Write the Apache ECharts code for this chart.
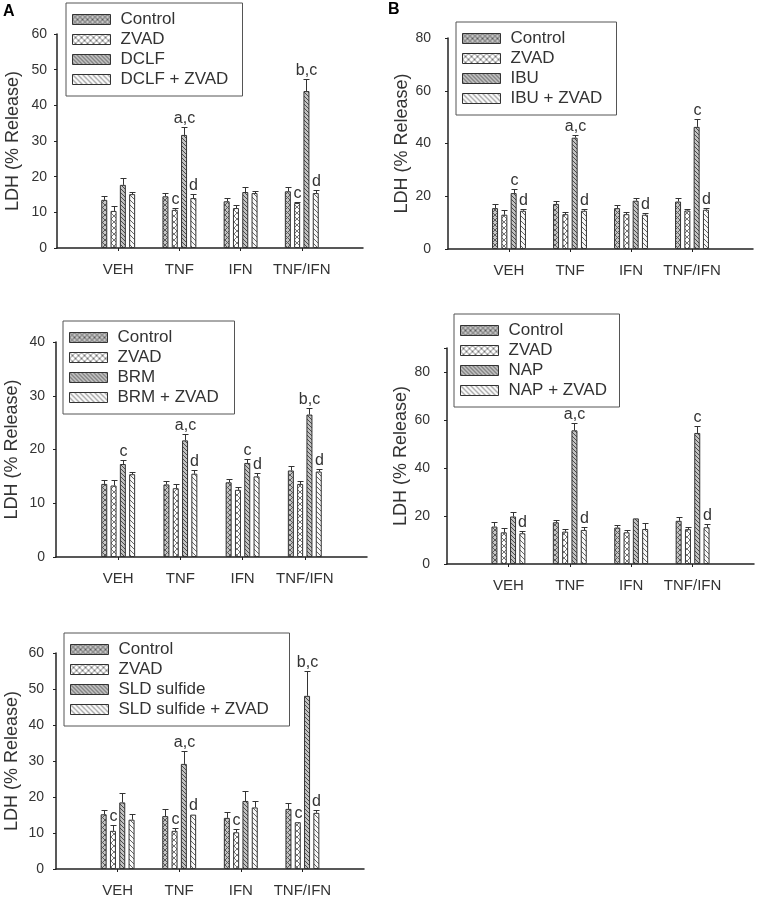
<!DOCTYPE html>
<html><head><meta charset="utf-8">
<script src="https://cdn.jsdelivr.net/npm/echarts@6/dist/echarts.min.js"></script>
<style>html,body{margin:0;padding:0;background:#fff}#c{width:760px;height:899px}</style>
</head><body><div id="c"></div>
<script>
const categories = ['VEH', 'TNF', 'IFN', 'TNF/IFN'];

// Panel A (top): DCLF
const dclfNames = ['Control', 'ZVAD', 'DCLF', 'DCLF + ZVAD'];
const dclfMean = [[13.5, 14.5, 13.1, 15.9], [10.4, 10.7, 11.2, 12.6], [17.7, 31.7, 15.7, 44.0], [15.1, 14.0, 15.4, 15.4]];
const dclfErr  = [[1.0, 0.9, 0.9, 1.1], [1.4, 0.5, 0.9, 0.2], [1.9, 2.3, 1.4, 3.3], [0.6, 1.1, 0.6, 0.9]];
const dclfSig  = [['', '', '', ''], ['', 'c', '', 'c'], ['', 'a,c', '', 'b,c'], ['', 'd', '', 'd']];
const dclfTicks = [0, 10, 20, 30, 40, 50, 60];

// Panel A (middle): BRM
const brmNames = ['Control', 'ZVAD', 'BRM', 'BRM + ZVAD'];
const brmMean = [[13.6, 13.5, 13.9, 16.1], [13.3, 12.8, 12.5, 13.6], [17.3, 21.7, 17.5, 26.5], [15.4, 15.5, 15.0, 15.9]];
const brmErr  = [[0.8, 0.6, 0.6, 0.8], [1.0, 0.7, 0.5, 0.5], [0.7, 1.2, 0.8, 1.2], [0.5, 0.6, 0.6, 0.5]];
const brmSig  = [['', '', '', ''], ['', '', '', ''], ['c', 'a,c', 'c', 'b,c'], ['', 'd', 'd', 'd']];
const brmTicks = [0, 10, 20, 30, 40];

// Panel A (bottom): SLD sulfide
const sldNames = ['Control', 'ZVAD', 'SLD sulfide', 'SLD sulfide + ZVAD'];
const sldMean = [[15.2, 14.7, 14.2, 16.7], [10.6, 10.6, 10.2, 13.0], [18.5, 29.2, 18.9, 48.1], [13.7, 15.1, 17.1, 15.6]];
const sldErr  = [[1.1, 1.9, 1.5, 1.5], [1.6, 0.8, 0.8, 0.0], [2.5, 3.6, 2.7, 7.0], [1.7, 0.0, 1.7, 0.7]];
const sldSig  = [['', '', '', ''], ['c', 'c', 'c', 'c'], ['', 'a,c', '', 'b,c'], ['', 'd', '', 'd']];
const sldTicks = [0, 10, 20, 30, 40, 50, 60];

// Panel B (top): IBU
const ibuNames = ['Control', 'ZVAD', 'IBU', 'IBU + ZVAD'];
const ibuMean = [[15.5, 17.1, 15.5, 18.0], [13.0, 13.2, 13.2, 14.6], [21.2, 42.2, 18.3, 46.3], [14.5, 14.5, 13.0, 14.9]];
const ibuErr  = [[1.6, 1.2, 1.3, 1.3], [1.6, 1.0, 1.0, 0.5], [1.5, 1.0, 1.2, 2.8], [0.6, 0.6, 0.6, 0.5]];
const ibuSig  = [['', '', '', ''], ['', '', '', ''], ['c', 'a,c', '', 'c'], ['d', 'd', 'd', 'd']];
const ibuTicks = [0, 20, 40, 60, 80];

// Panel B (middle): NAP
const napNames = ['Control', 'ZVAD', 'NAP', 'NAP + ZVAD'];
const napMean = [[15.6, 17.4, 15.2, 18.0], [13.2, 13.5, 13.2, 14.5], [19.8, 55.7, 19.0, 54.6], [12.8, 14.2, 14.6, 15.3]];
const napErr  = [[1.8, 1.0, 1.1, 1.4], [1.6, 1.0, 1.0, 0.8], [1.8, 3.1, 0.0, 3.1], [0.9, 1.1, 2.4, 1.4]];
const napSig  = [['', '', '', ''], ['', '', '', ''], ['', 'a,c', '', 'c'], ['d', 'd', '', 'd']];
const napTicks = [0, 20, 40, 60, 80];
const napAxisMax = 90;

// ---------- styling / layout ----------
const FONT = '"Liberation Sans", Arial, sans-serif';
const BW = 6, GAP_PCT = 0.55, CAP = 6;

function hatch(bg, fg, s, dirs, lw) {
  const c = document.createElement('canvas');
  c.width = s; c.height = s;
  const g = c.getContext('2d');
  g.fillStyle = bg; g.fillRect(0, 0, s, s);
  g.strokeStyle = fg; g.lineWidth = lw;
  dirs.forEach(d => {
    for (let k = -1; k <= 1; k++) {
      g.beginPath();
      if (d === '\\') { g.moveTo(k * s, 0); g.lineTo(k * s + s, s); }
      else { g.moveTo(k * s, s); g.lineTo(k * s + s, 0); }
      g.stroke();
    }
  });
  return { image: c, repeat: 'repeat' };
}
const fills = [
  hatch('#c6c6c6', '#5a5a5a', 5, ['\\', '/'], 1),
  hatch('#ffffff', '#777777', 6, ['\\', '/'], 1),
  hatch('#c2c2c2', '#4a4a4a', 4, ['\\'], 1),
  hatch('#f8f8f8', '#666666', 5, ['\\'], 1)
];

const panels = [
  { names: dclfNames, mean: dclfMean, err: dclfErr, sig: dclfSig, ticks: dclfTicks, axisMax: 60,
    grid: { left: 57, top: 34, width: 306, height: 214 }, lg: { left: 66, top: 3, tw: 114 }, nameGap: 35, labMargin: 10 },
  { names: ibuNames, mean: ibuMean, err: ibuErr, sig: ibuSig, ticks: ibuTicks, axisMax: 80,
    grid: { left: 448, top: 38, width: 305, height: 211 }, lg: { left: 456, top: 22, tw: 98 }, nameGap: 30, labMargin: 17 },
  { names: brmNames, mean: brmMean, err: brmErr, sig: brmSig, ticks: brmTicks, axisMax: 40,
    grid: { left: 56, top: 342, width: 311, height: 215 }, lg: { left: 63, top: 321, tw: 109 }, nameGap: 35, labMargin: 11 },
  { names: napNames, mean: napMean, err: napErr, sig: napSig, ticks: napTicks, axisMax: napAxisMax,
    grid: { left: 447, top: 348, width: 307, height: 216 }, lg: { left: 454, top: 314, tw: 103 }, nameGap: 35, labMargin: 17 },
  { names: sldNames, mean: sldMean, err: sldErr, sig: sldSig, ticks: sldTicks, axisMax: 60,
    grid: { left: 56, top: 653, width: 308, height: 216 }, lg: { left: 64, top: 633, tw: 163 }, nameGap: 35, labMargin: 12 }
];

const axisCats = [''].concat(categories, ['']);
const grid = [], xAxis = [], yAxis = [], series = [], legend = [];

panels.forEach((p, pi) => {
  grid.push(Object.assign({ outerBoundsMode: 'none', containLabel: false }, p.grid));
  xAxis.push({
    type: 'category', gridIndex: pi, data: axisCats, boundaryGap: false,
    axisLine: { show: true, lineStyle: { color: '#222', width: 1.5 } },
    axisTick: { show: true, length: 3, interval: (i, v) => v !== '', lineStyle: { color: '#222' } },
    axisLabel: { interval: 0, margin: 14, fontSize: 15, color: '#333', fontFamily: FONT },
    splitLine: { show: false }
  });
  const tk = p.ticks;
  yAxis.push({
    type: 'value', gridIndex: pi, min: tk[0], max: p.axisMax, interval: tk[1] - tk[0],
    name: 'LDH (% Release)', nameLocation: 'middle', nameGap: p.nameGap,
    nameTextStyle: { fontSize: 18, color: '#333', fontFamily: FONT },
    axisLine: { show: true, lineStyle: { color: '#222', width: 1.5 } },
    axisTick: { show: true, length: 3, lineStyle: { color: '#222' } },
    axisLabel: { margin: p.labMargin, fontSize: 14, color: '#333', fontFamily: FONT,
      formatter: v => (tk.indexOf(v) >= 0 ? String(v) : '') },
    splitLine: { show: false }
  });
  p.names.forEach((nm, si) => {
    series.push({
      type: 'bar', name: nm, xAxisIndex: pi, yAxisIndex: pi,
      data: ['-'].concat(p.mean[si], ['-']),
      barWidth: BW, barGap: (GAP_PCT * 100) + '%',
      itemStyle: { color: fills[si], borderColor: '#333', borderWidth: 1 },
      emphasis: { disabled: true }, silent: true
    });
  });
  const eData = [];
  for (let si = 0; si < 4; si++) for (let ci = 0; ci < categories.length; ci++) {
    eData.push([ci + 1, si, p.mean[si][ci], p.err[si][ci]]);
  }
  series.push({
    type: 'custom', xAxisIndex: pi, yAxisIndex: pi, data: eData, silent: true, z: 5,
    renderItem: (params, api) => {
      const ci = api.value(0), si = api.value(1), m = api.value(2), e = api.value(3);
      const top = api.coord([ci, m + e]);
      const bot = api.coord([ci, m]);
      const x = Math.round(top[0] + (si - 1.5) * BW * (1 + GAP_PCT)) + 0.5;
      const ty = Math.round(top[1]) + 0.5;
      const ch = [];
      if (e > 0) {
        ch.push({ type: 'line', shape: { x1: x, y1: bot[1], x2: x, y2: ty }, style: { stroke: '#333', lineWidth: 1 } });
        ch.push({ type: 'line', shape: { x1: x - CAP / 2, y1: ty, x2: x + CAP / 2, y2: ty }, style: { stroke: '#333', lineWidth: 1 } });
      }
      const lab = p.sig[si][ci - 1];
      if (lab) ch.push({ type: 'text', style: { text: lab, x: x, y: Math.min(ty, bot[1]) - 1, align: 'center', verticalAlign: 'bottom',
        font: '16px ' + FONT, fill: '#333' } });
      return { type: 'group', children: ch };
    }
  });
  legend.push({
    data: p.names, left: p.lg.left, top: p.lg.top, orient: 'vertical', icon: 'rect',
    itemWidth: 38, itemHeight: 10, itemGap: 3, padding: [8, 8, 8, 6],
    borderColor: '#555', borderWidth: 1, backgroundColor: '#fff', selectedMode: false,
    itemStyle: { borderColor: '#333', borderWidth: 1 },
    textStyle: { fontSize: 17, lineHeight: 17, color: '#333', fontFamily: FONT, width: p.lg.tw, padding: [0, 0, 0, 5] }
  });
});

const chart = echarts.init(document.getElementById('c'), null, { renderer: 'canvas' });
chart.setOption({
  animation: false,
  backgroundColor: '#fff',
  textStyle: { fontFamily: FONT },
  grid, xAxis, yAxis, series, legend,
  graphic: [
    { type: 'text', left: 3, top: 4, style: { text: 'A', font: 'bold 16px ' + FONT, fill: '#000' } },
    { type: 'text', left: 388, top: 2, style: { text: 'B', font: 'bold 16px ' + FONT, fill: '#000' } }
  ]
});
</script>
</body></html>
